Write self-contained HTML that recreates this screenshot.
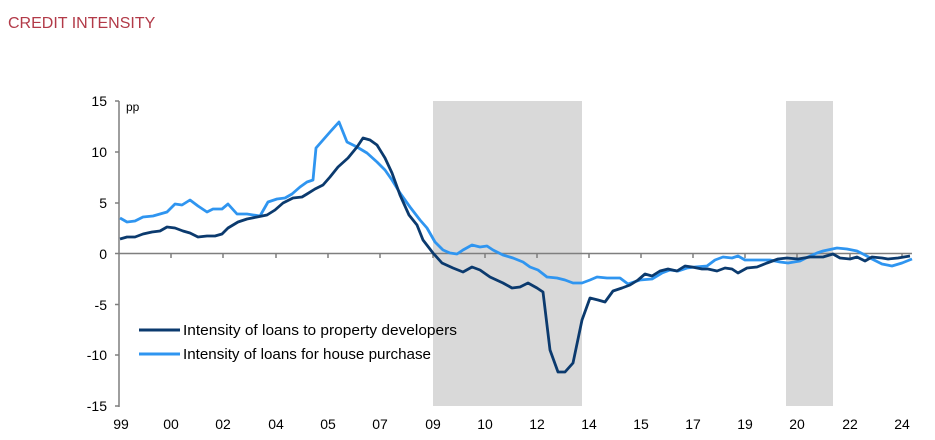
<!DOCTYPE html>
<html><head><meta charset="utf-8"><style>
body{margin:0;background:#fff;width:935px;height:440px;overflow:hidden}
svg{display:block;font-family:"Liberation Sans",Arial,sans-serif}
</style></head><body>
<svg width="935" height="440" viewBox="0 0 935 440">
<text x="8" y="28" font-size="16" fill="#b23a48">CREDIT INTENSITY</text>
<rect x="433" y="101" width="149" height="305" fill="#d9d9d9"/>
<rect x="786" y="101" width="47" height="305" fill="#d9d9d9"/>
<g stroke="#7f7f7f" stroke-width="1.5" fill="none">
<line x1="119" y1="101" x2="119" y2="407"/>
<line x1="119" y1="253.5" x2="912" y2="253.5"/>
<line x1="115" y1="101" x2="119" y2="101"/>
<line x1="115" y1="152" x2="119" y2="152"/>
<line x1="115" y1="203" x2="119" y2="203"/>
<line x1="115" y1="253.5" x2="119" y2="253.5"/>
<line x1="115" y1="304.5" x2="119" y2="304.5"/>
<line x1="115" y1="355" x2="119" y2="355"/>
<line x1="115" y1="406" x2="119" y2="406"/>
<path d="M171 253v5M223 253v5M276 253v5M328 253v5M380 253v5M433 253v5M485 253v5M537 253v5M589 253v5M641 253v5M693 253v5M745 253v5M797 253v5M850 253v5M902 253v5"/>
</g>
<g font-size="14" fill="#000" text-anchor="end">
<text x="107" y="106">15</text><text x="107" y="157">10</text><text x="107" y="208">5</text>
<text x="107" y="259">0</text><text x="107" y="310">-5</text><text x="107" y="360">-10</text><text x="107" y="411">-15</text>
</g>
<text x="126" y="111" font-size="12">pp</text>
<g font-size="14" text-anchor="middle">
<text x="121" y="429">99</text><text x="171" y="429">00</text><text x="223" y="429">02</text><text x="276" y="429">04</text><text x="328" y="429">05</text><text x="380" y="429">07</text><text x="433" y="429">09</text><text x="485" y="429">10</text><text x="537" y="429">12</text><text x="589" y="429">14</text><text x="641" y="429">15</text><text x="693" y="429">17</text><text x="745" y="429">19</text><text x="797" y="429">20</text><text x="850" y="429">22</text><text x="902" y="429">24</text>
</g>
<polyline fill="none" stroke="#2f95f0" stroke-width="2.8" stroke-linejoin="round" points="120,218 127,222 135,221 143,217 153,216 160,214 167,212 175,204 182,205 190,200 198,206 207,212 213,209 222,209 228,204 237,214 247,214 260,216 268,202 277,199 285,198 292,194 300,187 307,182 313,180 316,148 323,140 330,132 339,122 347,142 357,147 367,153 377,162 385,170 392,180 400,193 410,207 420,220 427,228 435,242 443,250 450,253 457,254 463,250 472,245 480,247 487,246 493,250 503,255 513,258 523,262 530,267 538,270 547,277 557,278 565,280 573,283 582,283 590,280 597,277 607,278 620,278 628,284 640,280 652,279 662,273 670,270 678,271 687,268 695,267 707,266 715,260 723,257 732,258 738,256 745,260 757,260 770,260 780,262 788,263 800,261 808,257 817,253 823,251 837,248 847,249 857,251 865,255 872,259 882,264 892,266 902,263 912,259"/>
<polyline fill="none" stroke="#0b3a6e" stroke-width="2.8" stroke-linejoin="round" points="120,239 127,237 135,237 143,234 152,232 160,231 167,227 175,228 183,231 190,233 198,237 207,236 215,236 222,234 228,228 238,222 247,219 257,217 267,215 275,210 283,203 293,198 302,197 307,194 315,189 323,185 330,177 338,167 348,158 357,147 363,138 370,140 377,145 385,158 392,173 400,195 409,215 417,225 423,240 433,253 442,263 453,268 463,272 472,267 480,270 490,277 503,283 512,288 520,287 528,283 537,288 543,292 550,350 558,372 565,372 573,363 582,320 590,298 598,300 605,302 613,291 622,288 630,285 638,280 645,274 652,276 660,271 668,269 677,271 685,266 692,267 702,269 708,269 717,271 725,268 732,269 738,273 747,268 757,267 767,263 778,259 787,258 798,259 810,257 823,257 833,254 840,258 850,259 857,257 865,261 872,257 882,258 888,259 898,258 910,256"/>
<line x1="139" y1="330" x2="180" y2="330" stroke="#0b3a6e" stroke-width="3"/>
<line x1="139" y1="354" x2="180" y2="354" stroke="#2f95f0" stroke-width="3"/>
<text x="183" y="335" font-size="15" textLength="274" lengthAdjust="spacingAndGlyphs">Intensity of loans to property developers</text>
<text x="183" y="359" font-size="15" textLength="248" lengthAdjust="spacingAndGlyphs">Intensity of loans for house purchase</text>
</svg>
</body></html>
